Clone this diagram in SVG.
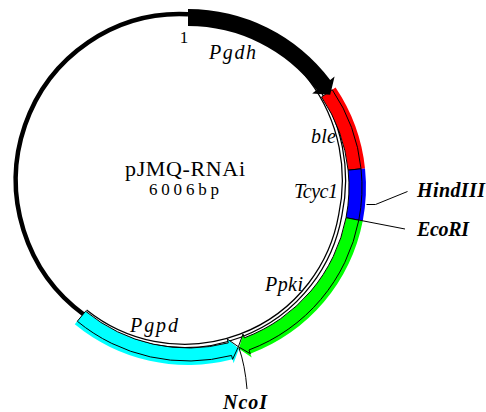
<svg xmlns="http://www.w3.org/2000/svg" width="486" height="412" viewBox="0 0 486 412">
<style>
.lbl{font-family:"Liberation Serif","Times New Roman",serif;font-style:italic;font-size:20px;fill:#000}
.site{font-family:"Liberation Serif","Times New Roman",serif;font-style:italic;font-weight:bold;font-size:20px;fill:#000}
.ttl{font-family:"Liberation Serif","Times New Roman",serif;fill:#000}
.ol{fill:none;stroke:#000;stroke-width:1}
.ln{fill:none;stroke:#000;stroke-width:1}
.bb{fill:none;stroke:#000;stroke-width:4.5}
.bw{fill:none;stroke:#fff;stroke-width:2}
</style>
<rect width="486" height="412" fill="#fff"/>
<g id="backbone">
<path class="bb" d="M84.4 315 A164 166 0 0 1 188 14.2"/>
<path class="bb" d="M188 14.2 A164 166 0 0 1 340.3 215 A158.2 158.2 0 0 1 85.6 311.2"/>
<path class="bw" d="M188 14.2 A164 166 0 0 1 340.3 215 A158.2 158.2 0 0 1 85.6 311.2"/>
</g>
<g id="ble">
<path d="M335.57 87.46 A178 178 0 0 1 365.02 168.39 L348.12 170.17 A161 161 0 0 0 321.48 96.97 Z" fill="#f00"/>
<path class="ol" d="M332.25 89.7 A174 174 0 0 1 361.05 168.81 L348.12 170.17 A161 161 0 0 0 321.48 96.97 Z"/>
</g>
<g id="Pgdh">
<path d="M188 9 A178 178 0 0 1 330.2 79.9 L334.6 76.5 L330.2 94.7 L312.2 93.4 L316.6 90.1 A161 161 0 0 0 188 26 Z" fill="#000"/>
</g>
<g id="Tcyc1">
<path d="M365.02 168.39 A178 178 0 0 1 362.73 220.96 L346.04 217.72 A161 161 0 0 0 348.12 170.17 Z" fill="#00f"/>
<path class="ol" d="M361.05 168.81 A174 174 0 0 1 358.8 220.2 L346.04 217.72 A161 161 0 0 0 348.12 170.17 Z"/>
</g>
<g id="Ppki">
<path d="M362.73 220.96 A178 178 0 0 1 250.34 353.73 L251.74 357.47 L238.97 348.66 L242.98 334.06 L244.38 337.8 A161 161 0 0 0 346.04 217.72 Z" fill="#0f0"/>
<path class="ol" d="M358.8 220.2 A174 174 0 0 1 248.94 349.98 L250.34 353.73 L238.37 346.75 L242.98 334.06 L244.38 337.8 A161 161 0 0 0 346.04 217.72 Z"/>
</g>
<g id="Pgpd">
<path d="M74.78 324.35 A178 178 0 0 0 232.57 359.33 L233.57 363.2 L238.97 348.66 L227.31 339 L228.31 342.87 A161 161 0 0 1 85.59 311.23 Z" fill="#0ff"/>
<path class="ol" d="M77.32 321.26 A174 174 0 0 0 231.57 355.46 L232.57 359.33 L238.37 346.75 L227.31 339 L228.31 342.87 A161 161 0 0 1 85.59 311.23 Z"/>
</g>
<g id="connectors">
<path class="ln" d="M366.5 204.5 L375.5 204.5 L407.5 191.5"/>
<path class="ln" d="M358.5 220 L405 229"/>
<path class="ln" d="M239 348 Q245 365 247 389"/>
</g>
<g id="labels">
<text class="ttl" x="184" y="43" font-size="17" text-anchor="middle">1</text>
<text class="lbl" x="209" y="59" textLength="47" lengthAdjust="spacing">Pgdh</text>
<text class="lbl" x="311" y="143" textLength="25" lengthAdjust="spacing">ble</text>
<text class="lbl" x="294" y="198" font-size="19" textLength="44" lengthAdjust="spacing">Tcyc1</text>
<text class="lbl" x="265" y="291" textLength="38" lengthAdjust="spacing">Ppki</text>
<text class="lbl" x="130" y="332" textLength="48" lengthAdjust="spacing">Pgpd</text>
<text class="ttl" x="125" y="176" font-size="22" textLength="120" lengthAdjust="spacing">pJMQ-RNAi</text>
<text class="ttl" x="149" y="195" font-size="17" textLength="70" lengthAdjust="spacing">6006bp</text>
</g>
<g id="sites">
<text class="site" x="417" y="197" textLength="68" lengthAdjust="spacing">HindIII</text>
<text class="site" x="417" y="236" textLength="52" lengthAdjust="spacing">EcoRI</text>
<text class="site" x="223" y="409" textLength="44" lengthAdjust="spacing">NcoI</text>
</g>
</svg>
